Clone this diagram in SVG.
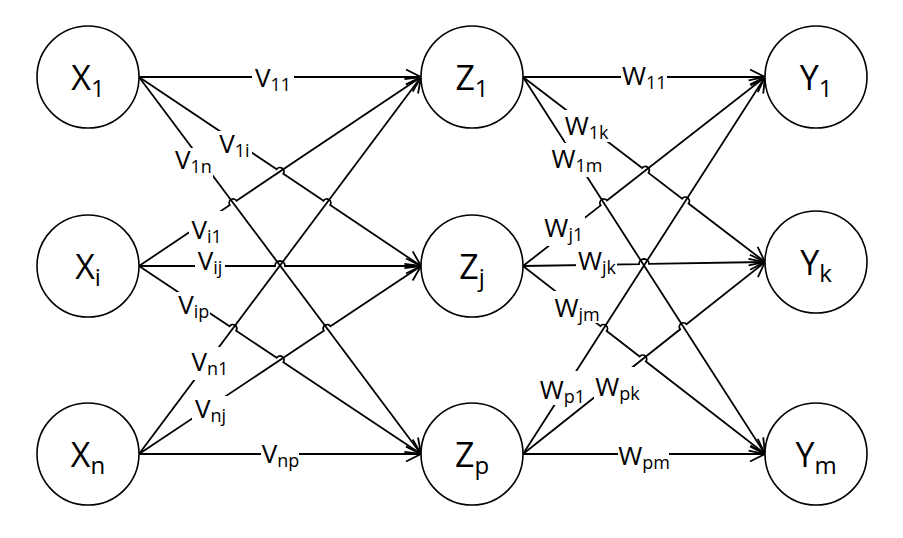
<svg xmlns="http://www.w3.org/2000/svg" width="903" height="538" viewBox="0 0 903 538">
<style>
.node circle{fill:#fff;stroke:#000;stroke-width:1.6}
.nl{font-family:"Open Sans","Liberation Sans",sans-serif;font-size:34px;text-anchor:middle;fill:#000}
.ns{font-size:24px}
.edge{fill:none;stroke:#000;stroke-width:1.8;marker-end:url(#arr)}
.bg{fill:#fff;stroke:none}
.el{font-family:"Open Sans","Liberation Sans",sans-serif;font-size:26px;text-anchor:middle;fill:#000}
.es{font-size:18px}
</style>
<defs>
<marker id="arr" markerUnits="userSpaceOnUse" markerWidth="24" markerHeight="24" viewBox="-20 -12 24 24" refX="0" refY="0" orient="auto" overflow="visible">
<path d="M-15,-7.5 L0,0 L-15,7.5" fill="none" stroke="#000" stroke-width="1.8"/>
</marker>
</defs>
<rect width="903" height="538" fill="#fff"/>
<g id="connectors">
<path class="edge" d="M139,77 L421,77"/>
<path class="edge" d="M139,77 L276.68,169.27 A4,4 0 0 1 283.32,173.73 L323.51,200.66 A4,4 0 0 1 330.15,205.12 L421,266"/>
<path class="edge" d="M139,77 L421,454"/>
<path class="edge" d="M139,266 L229.85,205.12 A4,4 0 0 1 236.49,200.66 L421,77"/>
<path class="edge" d="M139,266 L275,266 A5,5 0 0 1 285,266 L421,266"/>
<path class="edge" d="M139,266 L229.5,326.33 A4,4 0 0 1 236.16,330.77 L276.67,357.78 A4,4 0 0 1 283.33,362.22 L421,454"/>
<path class="edge" d="M139,454 L421,77"/>
<path class="edge" d="M139,454 L323.83,330.78 A4,4 0 0 1 330.49,326.34 L421,266"/>
<path class="edge" d="M139,454 L421,454"/>
<path class="edge" d="M523,77 L765,77"/>
<path class="edge" d="M523,77 L642.11,168.06 A4,4 0 0 1 648.47,172.92 L682.16,198.67 A4,4 0 0 1 688.52,203.53 L765,262"/>
<path class="edge" d="M523,77 L765,454"/>
<path class="edge" d="M523,266 L600.66,205.35 A4,4 0 0 1 606.96,200.43 L765,77"/>
<path class="edge" d="M523,266 L639,264.08 A5,5 0 0 1 649,263.92 L765,262"/>
<path class="edge" d="M523,266 L600.36,326.1 A4,4 0 0 1 606.68,331 L639.57,356.56 A4,4 0 0 1 645.89,361.46 L765,454"/>
<path class="edge" d="M523,454 L765,77"/>
<path class="edge" d="M523,454 L680.21,329.28 A4,4 0 0 1 686.47,324.3 L765,262"/>
<path class="edge" d="M523,454 L765,454"/>
<g id="edge-labels">
<rect class="bg" x="252" y="65" width="42" height="30"/>
<rect class="bg" x="217" y="131" width="35" height="30"/>
<rect class="bg" x="174" y="148" width="39" height="30"/>
<rect class="bg" x="189" y="211" width="35" height="34"/>
<rect class="bg" x="195" y="248" width="30" height="30"/>
<rect class="bg" x="177" y="292" width="33" height="30"/>
<rect class="bg" x="190" y="347" width="37" height="33"/>
<rect class="bg" x="192" y="396" width="36" height="30"/>
<rect class="bg" x="261" y="441" width="38" height="30"/>
<rect class="bg" x="621" y="63" width="46" height="30"/>
<rect class="bg" x="565" y="110" width="45" height="32"/>
<rect class="bg" x="551" y="143" width="51" height="34"/>
<rect class="bg" x="543" y="213" width="42" height="33"/>
<rect class="bg" x="576" y="248" width="41" height="30"/>
<rect class="bg" x="554" y="291" width="46" height="32"/>
<rect class="bg" x="540" y="371" width="43" height="34"/>
<rect class="bg" x="594" y="367" width="46" height="33"/>
<rect class="bg" x="618" y="441" width="51" height="31"/>
<text class="el" x="273" y="87">V<tspan class="es" dy="4">11</tspan></text>
<text class="el" x="234.5" y="153">V<tspan class="es" dy="4">1i</tspan></text>
<text class="el" x="193.4" y="169">V<tspan class="es" dy="4">1n</tspan></text>
<text class="el" x="206.7" y="238.5">V<tspan class="es" dy="4">i1</tspan></text>
<text class="el" x="210" y="270">V<tspan class="es" dy="4">ij</tspan></text>
<text class="el" x="193.7" y="314">V<tspan class="es" dy="4">ip</tspan></text>
<text class="el" x="210" y="371">V<tspan class="es" dy="4">n1</tspan></text>
<text class="el" x="210.5" y="418">V<tspan class="es" dy="4">nj</tspan></text>
<text class="el" x="280.5" y="463">V<tspan class="es" dy="4">np</tspan></text>
<text class="el" x="644.3" y="85">W<tspan class="es" dy="4">11</tspan></text>
<text class="el" x="586.7" y="135">W<tspan class="es" dy="4">1k</tspan></text>
<text class="el" x="577" y="168.3">W<tspan class="es" dy="4">1m</tspan></text>
<text class="el" x="563.8" y="236.7">W<tspan class="es" dy="4">j1</tspan></text>
<text class="el" x="597" y="270">W<tspan class="es" dy="4">jk</tspan></text>
<text class="el" x="577" y="316.7">W<tspan class="es" dy="4">jm</tspan></text>
<text class="el" x="562.5" y="398.7">W<tspan class="es" dy="4">p1</tspan></text>
<text class="el" x="617.5" y="396.3">W<tspan class="es" dy="4">pk</tspan></text>
<text class="el" x="644" y="464.7">W<tspan class="es" dy="4">pm</tspan></text>
</g>
</g>
<g id="X1" class="node"><circle cx="88" cy="77" r="51"/><text class="nl" x="88" y="89.5">X<tspan class="ns" dy="7">1</tspan></text></g>
<g id="Xi" class="node"><circle cx="88" cy="266" r="51"/><text class="nl" x="88" y="278.5">X<tspan class="ns" dy="7">i</tspan></text></g>
<g id="Xn" class="node"><circle cx="88" cy="454" r="51"/><text class="nl" x="88" y="466.5">X<tspan class="ns" dy="7">n</tspan></text></g>
<g id="Z1" class="node"><circle cx="472" cy="77" r="51"/><text class="nl" x="472" y="89.5">Z<tspan class="ns" dy="7">1</tspan></text></g>
<g id="Zj" class="node"><circle cx="472" cy="266" r="51"/><text class="nl" x="472" y="278.5">Z<tspan class="ns" dy="7">j</tspan></text></g>
<g id="Zp" class="node"><circle cx="472" cy="454" r="51"/><text class="nl" x="472" y="466.5">Z<tspan class="ns" dy="7">p</tspan></text></g>
<g id="Y1" class="node"><circle cx="816" cy="77" r="51"/><text class="nl" x="816" y="89.5">Y<tspan class="ns" dy="7">1</tspan></text></g>
<g id="Yk" class="node"><circle cx="816" cy="262" r="51"/><text class="nl" x="816" y="274.5">Y<tspan class="ns" dy="7">k</tspan></text></g>
<g id="Ym" class="node"><circle cx="816" cy="454" r="51"/><text class="nl" x="816" y="466.5">Y<tspan class="ns" dy="7">m</tspan></text></g>
</svg>
